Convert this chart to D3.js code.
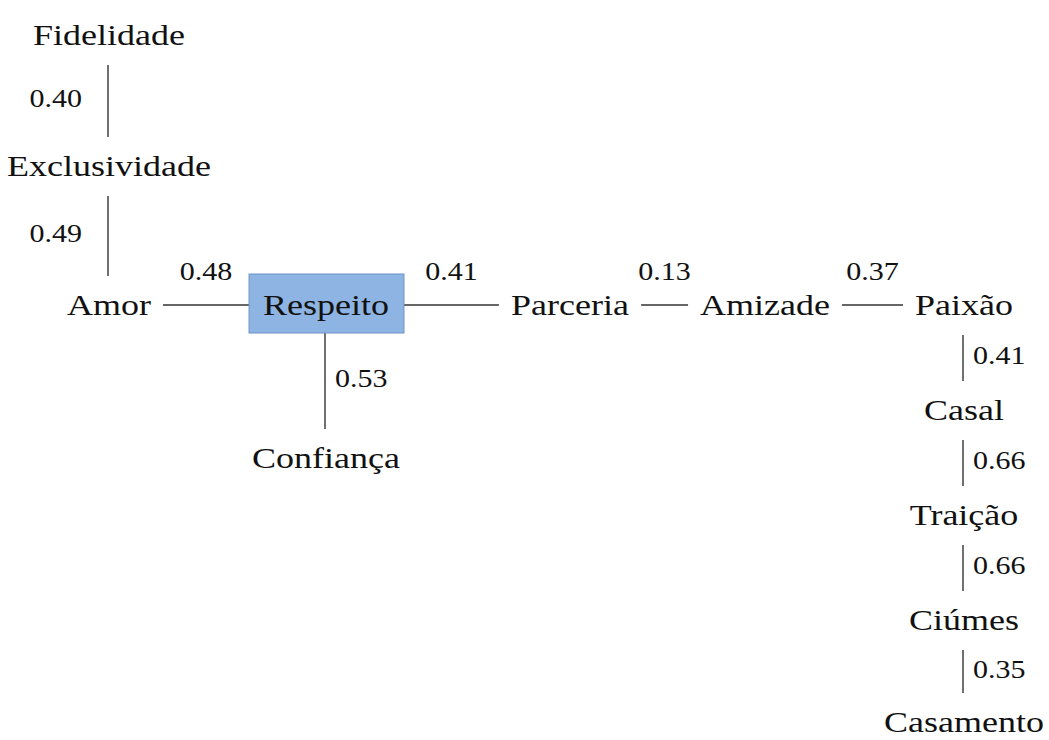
<!DOCTYPE html>
<html>
<head>
<meta charset="utf-8">
<script src="https://cdn.jsdelivr.net/npm/d3@7"></script>
<style>
	body { margin: 0; background: #fff; }
	text { font-family: "Liberation Serif", "Times New Roman", serif; fill: #111; }
</style>
</head>
<body>
<svg id="svg"></svg>
<script>
	"use strict";

	// terms of the tree
	var nodes = ["Fidelidade", "Exclusividade", "Amor", "Respeito", "Parceria",
		"Amizade", "Paixão", "Confiança", "Casal", "Traição", "Ciúmes", "Casamento"];

	// links and their similarity index
	var sources = ["Fidelidade", "Exclusividade", "Amor", "Respeito", "Parceria",
		"Amizade", "Respeito", "Paixão", "Casal", "Traição", "Ciúmes"];
	var targets = ["Exclusividade", "Amor", "Respeito", "Parceria", "Amizade",
		"Paixão", "Confiança", "Casal", "Traição", "Ciúmes", "Casamento"];
	var values = [0.40, 0.49, 0.48, 0.41, 0.13, 0.37, 0.53, 0.41, 0.66, 0.66, 0.35];

	// layout: column / row slot of every term
	var cols = [0, 0, 0, 1, 2, 3, 4, 1, 4, 4, 4, 4];
	var rows = [0, 1, 2, 2, 2, 2, 2, 4, 3, 5, 6, 7];
	var labelSide = ["left", "left", "top", "top", "top", "top", "right", "right", "right", "right", "right"];

	var width = 1049, height = 740, sx = 1.2;

	var x = d3.scaleOrdinal().domain([0, 1, 2, 3, 4]).range([109, 326, 570, 765, 964]);
	var y = d3.scaleOrdinal().domain([0, 1, 2, 3, 4, 5, 6, 7]).range([45, 176, 315, 420, 468, 525, 630, 732]);

	var svg = d3.select("#svg")
		.attr("width", width)
		.attr("height", height);

	var gLinks = svg.append("g").attr("class", "links");
	var gBox = svg.append("g").attr("class", "box");
	var gNodes = svg.append("g").attr("class", "nodes");

	var data = nodes.map(function(n, i){
		return {name: n, x: x(cols[i]), y: y(rows[i])};
	});
	var byName = {};
	data.forEach(function(d){ byName[d.name] = d; });

	gNodes.selectAll("text")
		.data(data)
		.enter()
		.append("text")
		.attr("transform", function(d){ return "translate(" + d.x + "," + d.y + ") scale(" + sx + ",1)"; })
		.attr("text-anchor", "middle")
		.style("font-size", "30px")
		.text(function(d){ return d.name; })
		.each(function(d){ d.w = this.getBBox().width * sx; });

	// highlighted central term
	var hub = byName["Respeito"];
	hub.box = {x0: hub.x - hub.w / 2 - 14, x1: hub.x + hub.w / 2 + 15, y0: hub.y - 41, y1: hub.y + 18};
	gBox.append("rect")
		.attr("x", hub.box.x0)
		.attr("y", hub.box.y0)
		.attr("width", hub.box.x1 - hub.box.x0)
		.attr("height", hub.box.y1 - hub.box.y0)
		.style("fill", "#8db4e2")
		.style("stroke", "#6d93c6")
		.style("stroke-width", 1);

	var gap = 12;
	var links = sources.map(function(s, i){
		var a = byName[s], b = byName[targets[i]], l = {value: values[i], side: labelSide[i]};
		if (a.y === b.y) {
			l.x1 = a.box ? a.box.x1 : a.x + a.w / 2 + gap;
			l.x2 = b.box ? b.box.x0 : b.x - b.w / 2 - gap;
			l.y1 = l.y2 = a.y - 10;
		} else {
			l.x1 = l.x2 = a.x - 1;
			l.y1 = a.box ? a.box.y1 : a.y + 20;
			l.y2 = b.y - 39;
		}
		return l;
	});

	gLinks.selectAll("line")
		.data(links)
		.enter()
		.append("line")
		.attr("x1", function(d){ return d.x1; })
		.attr("x2", function(d){ return d.x2; })
		.attr("y1", function(d){ return d.y1; })
		.attr("y2", function(d){ return d.y2; })
		.style("stroke", "#333")
		.style("stroke-width", 1.4);

	gLinks.selectAll("text")
		.data(links)
		.enter()
		.append("text")
		.attr("transform", function(d){
			var mx = (d.x1 + d.x2) / 2, my = (d.y1 + d.y2) / 2, tx, ty;
			if (d.side === "top") { tx = mx; ty = d.y1 - 25; }
			else if (d.side === "left") { tx = mx - 26; ty = my + 6; }
			else { tx = mx + 10; ty = my + 6; }
			return "translate(" + tx + "," + ty + ") scale(" + sx + ",1)";
		})
		.attr("text-anchor", function(d){
			return d.side === "top" ? "middle" : (d.side === "left" ? "end" : "start");
		})
		.style("font-size", "25px")
		.text(function(d){ return d.value.toFixed(2); });
</script>
</body>
</html>
